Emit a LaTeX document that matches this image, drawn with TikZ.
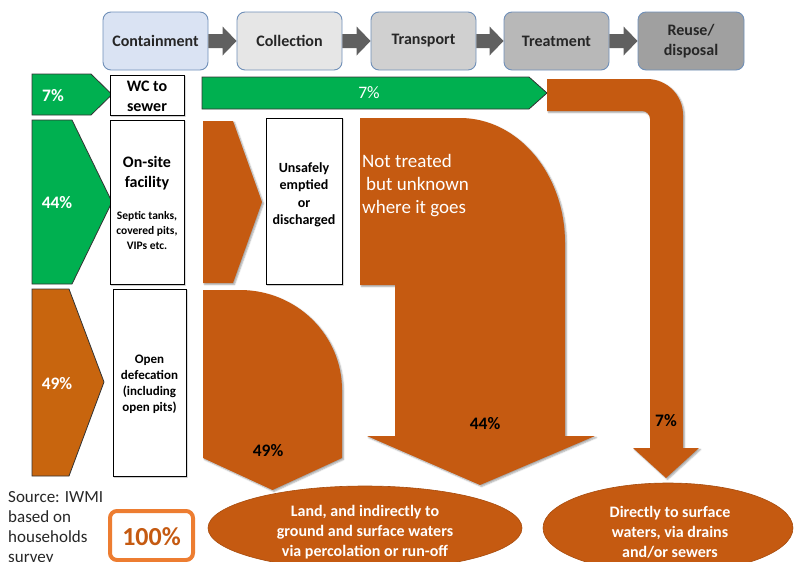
\documentclass[tikz,border=0pt]{standalone}
\usepackage{fontspec}
\setmainfont{Carlito}
\usetikzlibrary{calc,shadows.blur}

\definecolor{flowgreen}{HTML}{00B050}
\definecolor{sludge}{HTML}{C55A11}
\definecolor{odorange}{HTML}{C8650E}
\definecolor{hdrline}{HTML}{6F8FB8}
\definecolor{stepgray}{HTML}{606060}
\definecolor{tagorange}{HTML}{ED7D31}
\definecolor{contblue}{HTML}{DAE3F3}
\definecolor{collgray}{HTML}{E6E6E6}
\definecolor{trangray}{HTML}{D0D0D0}
\definecolor{treagray}{HTML}{B8B8B8}
\definecolor{reusgray}{HTML}{A0A0A0}
\definecolor{inktext}{HTML}{262626}

\tikzset{
  hdr/.style={draw=hdrline, line width=0.9pt, rounded corners=8pt,
    minimum width=105, minimum height=58, align=center, inner sep=2pt,
    font=\fontsize{16}{20}\selectfont\bfseries, text=inktext},
  stagearrow/.style={fill=stepgray},
  greenshape/.style={fill=flowgreen, draw=black!80, line width=0.8pt},
  sludgeshape/.style={fill=sludge,
    blur shadow={shadow xshift=1.5pt, shadow yshift=-1.5pt, shadow blur radius=1.5pt, shadow opacity=35}},
  infobox/.style={draw=black, line width=0.8pt, fill=white, inner sep=0pt,
    blur shadow={shadow xshift=1.2pt, shadow yshift=-1.2pt, shadow blur radius=1pt, shadow opacity=30}},
  boxtext/.style={align=center, text=black, font=\bfseries},
  whitepct/.style={text=white, font=\fontsize{17.5}{20}\selectfont\bfseries},
  blackpct/.style={text=black, font=\fontsize{17.5}{20}\selectfont\bfseries},
  fate/.style={fill=sludge, draw=sludge!85!black, line width=0.6pt},
  fatetext/.style={align=center, text=white, font=\fontsize{16}{20}\selectfont\bfseries},
}

\begin{document}
\begin{tikzpicture}[x=1pt,y=-1pt]
\useasboundingbox (0,0) rectangle (795,562);

% ---- sanitation service chain ----
\node[hdr, fill=contblue] (cont) at (155.5,41) {Containment};
\node[hdr, fill=collgray] (coll) at (289.5,41) {Collection};
\node[hdr, fill=trangray] (tran) at (423.5,41) {Transport};
\node[hdr, fill=treagray] (trea) at (556.5,41) {Treatment};
\node[hdr, fill=reusgray, minimum width=106] (reus) at (691,41) {Reuse/\\disposal};

\foreach \a/\b in {cont/coll, coll/tran, tran/trea, trea/reus}
  \fill[stagearrow] ($(\a.east)+(0,-7)$) -- ($(\b.west)+(-14,-7)$)
    -- ($(\b.west)+(-14,-14.5)$) -- (\b.west) -- ($(\b.west)+(-14,14.5)$)
    -- ($(\b.west)+(-14,7)$) -- ($(\a.east)+(0,7)$) -- cycle;

% ---- row 1: sewered ----
\draw[greenshape] (32,74) -- (91,74) -- (112,94.5) -- (91,115) -- (32,115) -- cycle;
\node[whitepct] (p7) at (53,96) {7\%};
\node[infobox, minimum width=74, minimum height=40] (wc) at (147,95) {};
\node[boxtext, font=\fontsize{16}{20}\selectfont\bfseries] (wct) at (147,96) {WC to\\sewer};

\draw[greenshape] (202,77) -- (529,77) -- (547,93) -- (529,109) -- (202,109) -- cycle;
\node[text=white, font=\fontsize{17.5}{20}\selectfont] (sew7) at (369,93) {7\%};

% untreated sewage discharged to surface waters
\fill[sludgeshape] (547,79) -- (647,79)
  arc[start angle=-90, end angle=0, radius=36] -- (683,448) -- (699,448)
  -- (666,478) -- (633,448) -- (650,448) -- (650,119)
  arc[start angle=0, end angle=-90, radius=8] -- (547,111) -- cycle;
\node[blackpct] (d7) at (666,421) {7\%};

% ---- row 2: on-site ----
\draw[greenshape] (32,120) -- (72,120) -- (112,202) -- (72,284) -- (32,284) -- cycle;
\node[whitepct] (p44) at (57,203) {44\%};
\node[infobox, minimum width=74, minimum height=164] (onsite) at (147,202) {};
\node[boxtext, font=\fontsize{16}{20}\selectfont\bfseries] (onsitet) at (147,173) {On-site\\facility};
\node[boxtext, font=\fontsize{11.5}{15}\selectfont\bfseries] (onsitex) at (147,230) {Septic tanks,\\covered pits,\\VIPs etc.};

\fill[sludgeshape] (203,121) -- (233,121) -- (262,202) -- (233,283) -- (203,283) -- cycle;
\node[infobox, minimum width=76, minimum height=166] (unsafe) at (304,201) {};
\node[boxtext, font=\fontsize{14}{17.5}\selectfont\bfseries] (unsafet) at (304,195) {Unsafely\\emptied\\or\\discharged};

\fill[sludgeshape] (360,118) -- (460,118)
  arc[start angle=-90, end angle=0, x radius=105, y radius=125]
  -- (565,436) -- (595,436) -- (480,485) -- (367,436) -- (395,436)
  -- (395,285) -- (360,285) -- cycle;
\node[anchor=west, align=left, text=white, inner sep=0pt,
  font=\fontsize{19}{23}\selectfont] (unknown) at (362,186)
  {Not treated\\\hspace*{4pt}but unknown\\where it goes};
\node[blackpct] (d44) at (485,424) {44\%};

% ---- row 3: open defecation ----
\draw[fill=odorange, draw=black!80, line width=0.8pt] (32,289) -- (69,289) -- (104,382) -- (69,476) -- (32,476) -- cycle;
\node[whitepct] (p49) at (57,384) {49\%};
\node[infobox, minimum width=73, minimum height=187] (opendef) at (149.5,382.5) {};
\node[boxtext, font=\fontsize{13}{16}\selectfont\bfseries] (opendeft) at (149.5,384) {Open\\defecation\\(including\\open pits)};

\fill[sludgeshape] (203,290) -- (240,290)
  arc[start angle=-90, end angle=0, x radius=102, y radius=100]
  -- (342,458) -- (272.5,490) -- (203,458) -- cycle;
\node[blackpct] (d49) at (268,451) {49\%};

% ---- final destinations ----
\draw[fate] (365,528) ellipse[x radius=157, y radius=42];
\node[fatetext] (land) at (365,532) {Land, and indirectly to\\ground and surface waters\\via percolation or run-off};
\draw[fate] (668,528) ellipse[x radius=125, y radius=45];
\node[fatetext] (surface) at (670,532) {Directly to surface\\waters, via drains\\and/or sewers};

% ---- source and total ----
\node[anchor=north west, align=left, inner sep=0pt, text=inktext,
  font=\fontsize{17}{20}\selectfont] (source) at (8,491)
  {Source: IWMI\\based on\\households\\survey};
\draw[tagorange, line width=4pt, fill=white, rounded corners=7pt] (110,511) rectangle (193,560);
\node[text=sludge, font=\fontsize{26}{30}\selectfont\bfseries] (total) at (151.5,537) {100\%};

\end{tikzpicture}
\end{document}
